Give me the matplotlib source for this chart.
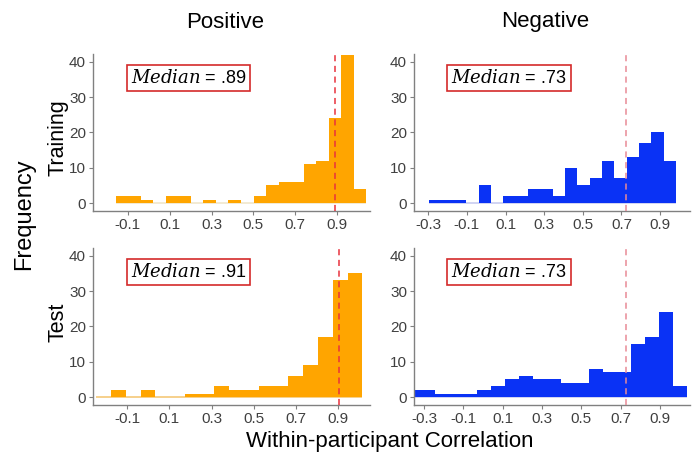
import numpy as np
import matplotlib
matplotlib.use("Agg")
from matplotlib import pyplot as plt

plt.rcParams['font.family'] = ['Liberation Sans', 'DejaVu Sans']
plt.rcParams['mathtext.fontset'] = 'dejavuserif'

# histogram counts
train_pos = [2, 2, 1, 0, 2, 2, 0, 1, 0, 1, 0, 2, 5, 6, 6, 11, 12, 24, 42, 4]
train_neg = [1, 1, 1, 0, 5, 0, 2, 2, 4, 4, 2, 10, 5, 7, 12, 7, 13, 17, 20, 12]
test_pos = [0, 2, 0, 2, 0, 0, 1, 1, 3, 2, 2, 3, 3, 6, 9, 17, 33, 35]
test_neg = [2, 2, 1, 1, 1, 2, 3, 5, 6, 5, 5, 4, 4, 8, 7, 7, 15, 17, 24, 3]

# first bin edge and bin width of each histogram
train_pos_bins = (-0.159, 0.06)
train_neg_bins = (-0.295, 0.0639)
test_pos_bins = (-0.246, 0.07)
test_neg_bins = (-0.385, 0.0712)

medians = [0.889, 0.725, 0.905, 0.725]
median_labels = ['.89', '.73', '.91', '.73']

pos_ticks = [-0.1, 0.1, 0.3, 0.5, 0.7, 0.9]
neg_ticks = [-0.3, -0.1, 0.1, 0.3, 0.5, 0.7, 0.9]
y_ticks = [0, 10, 20, 30, 40]

orange = '#FFA500'
blue = '#0A32F5'

fig = plt.figure(figsize=(7, 4.68), dpi=100)

W, H = 700, 468
def rect(l, r, t, b):
    return [l / W, (H - b) / H, (r - l) / W, (b - t) / H]

panels = [
    (rect(93, 370, 54, 211), train_pos, train_pos_bins, orange, '#F0E6CC', pos_ticks, (-0.267, 1.058), '#E8313D'),
    (rect(414, 690, 54, 211), train_neg, train_neg_bins, blue, '#C8CCF0', neg_ticks, (-0.374, 1.055), '#E88A96'),
    (rect(93, 370, 248, 405), test_pos, test_pos_bins, orange, '#F5C878', pos_ticks, (-0.261, 1.05), '#E8313D'),
    (rect(414, 690, 248, 405), test_neg, test_neg_bins, blue, '#C8CCF0', neg_ticks, (-0.351, 1.053), '#E88A96'),
]

for i, (r, counts, bins, col, zero_col, ticks, xlim, mcol) in enumerate(panels):
    ax = fig.add_axes(r)
    start, width = bins
    edges = start + width * np.arange(len(counts) + 1)
    ax.hlines(0, edges[0], edges[-1], color=zero_col, lw=1.2, zorder=1)
    ax.bar(edges[:-1], counts, width=width, align='edge', color=col, linewidth=0, zorder=2)
    ax.axvline(medians[i], color=mcol, ls=(0, (4, 3)), lw=1.1, zorder=3)
    ax.set_xlim(*xlim)
    ax.set_ylim(-2.25, 42.2)
    ax.set_xticks(ticks)
    ax.set_xticklabels([('%.1f' % t) for t in ticks])
    ax.set_yticks(y_ticks)
    for s in ['top', 'right']:
        ax.spines[s].set_visible(False)
    for s in ['left', 'bottom']:
        ax.spines[s].set_color('#808080')
        ax.spines[s].set_linewidth(1.0)
    ax.tick_params(colors='#808080', labelcolor='#404040', labelsize=11, length=3, width=0.8, pad=2)
    ax.text(0.345, 0.845, r'$\mathit{Median}$ = ' + median_labels[i], transform=ax.transAxes,
            ha='center', va='center', fontsize=13, color='black',
            bbox=dict(boxstyle='square,pad=0.22', facecolor='white', edgecolor='#D42A2A', linewidth=1.2))

fig.text(225 / W, 1 - 22 / H, 'Positive', ha='center', va='center', fontsize=16)
fig.text(545 / W, 1 - 22 / H, 'Negative', ha='center', va='center', fontsize=16)
fig.text(58 / W, 1 - 138 / H, 'Training', ha='center', va='center', rotation=90, fontsize=15.5)
fig.text(58 / W, 1 - 322 / H, 'Test', ha='center', va='center', rotation=90, fontsize=15.5)
fig.text(24 / W, 1 - 214 / H, 'Frequency', ha='center', va='center', rotation=90, fontsize=17)
fig.text(390 / W, 1 - 442 / H, 'Within-participant Correlation', ha='center', va='center', fontsize=16)

plt.savefig('out.png', dpi=100)
